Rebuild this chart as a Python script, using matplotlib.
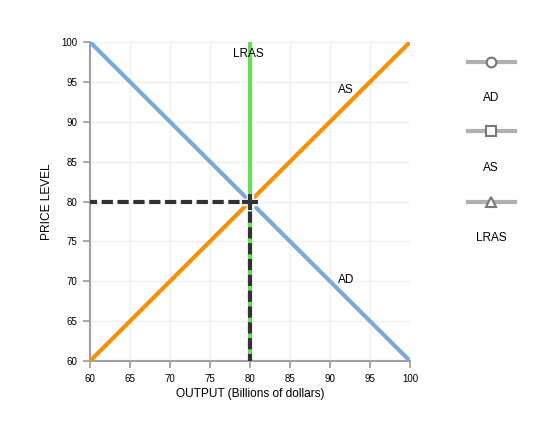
import matplotlib
matplotlib.use("Agg")
import matplotlib.pyplot as plt
from matplotlib.lines import Line2D

plt.rcParams['font.family'] = ['Liberation Sans', 'DejaVu Sans']

ad_x = [60, 100]
ad_y = [100, 60]
as_x = [60, 100]
as_y = [60, 100]
lras_x = [80, 80]
lras_y = [60, 100]
eq_x = 80
eq_y = 80
ticks = [60, 65, 70, 75, 80, 85, 90, 95, 100]

fig = plt.figure(figsize=(5.41, 4.26), dpi=100)
ax = fig.add_axes([90/541, 1-361/426, 320/541, 319/426])

ax.plot(lras_x, lras_y, color='#66dd55', lw=3, zorder=2, solid_capstyle='butt')
ax.plot(ad_x, ad_y, color='#7aaad8', lw=3, zorder=3, solid_capstyle='butt')
ax.plot(as_x, as_y, color='#f5900a', lw=3, zorder=3, solid_capstyle='butt')
ax.plot([60, eq_x], [eq_y, eq_y], color='#333333', lw=3, ls=(1.0, (2.7, 1.1)), zorder=4)
ax.plot([eq_x, eq_x], [60, eq_y], color='#333333', lw=3, ls=(1.0, (2.7, 1.1)), zorder=4)
ax.plot([eq_x], [eq_y], marker='P', ms=12, color='white', mec='white', zorder=5)
ax.plot([eq_x], [eq_y], marker='+', ms=11, mew=3, color='#333333', zorder=6)

ax.text(79.8, 98.5, 'LRAS', ha='center', va='center', fontsize=8.5)
ax.text(92, 94, 'AS', ha='center', va='center', fontsize=8.5)
ax.text(92, 70.2, 'AD', ha='center', va='center', fontsize=8.5)

ax.set_xlim(60, 100)
ax.set_ylim(60, 100)
ax.set_xticks(ticks)
ax.set_yticks(ticks)
ax.tick_params(labelsize=7, color='#999999', length=5, width=1.2, pad=4)
ax.grid(True, color='#f0f0f0', lw=1)
ax.set_axisbelow(True)
for s in ['top', 'right']:
    ax.spines[s].set_visible(False)
for s in ['left', 'bottom']:
    ax.spines[s].set_color('#a0a0a0')
    ax.spines[s].set_linewidth(1.5)
ax.set_xlabel('OUTPUT (Billions of dollars)', fontsize=8.6, labelpad=3)
ax.set_ylabel('PRICE LEVEL', fontsize=8.6, labelpad=6)

# legend
leg_items = [('AD', 'o', 62, 98), ('AS', 's', 131, 168), ('LRAS', '^', 202, 238)]
for label, mk, ly, ty in leg_items:
    fig.add_artist(Line2D([468/541, 515/541], [1-ly/426, 1-ly/426], color='#b0b0b0', lw=3,
                          transform=fig.transFigure))
    fig.add_artist(Line2D([491/541], [1-ly/426], marker=mk, ms=7, mfc='white', mec='#777777',
                          mew=1.5, transform=fig.transFigure))
    fig.text(491/541, 1-ty/426, label, ha='center', va='center', fontsize=8.5)

fig.savefig('out.png', dpi=100, facecolor='white')
